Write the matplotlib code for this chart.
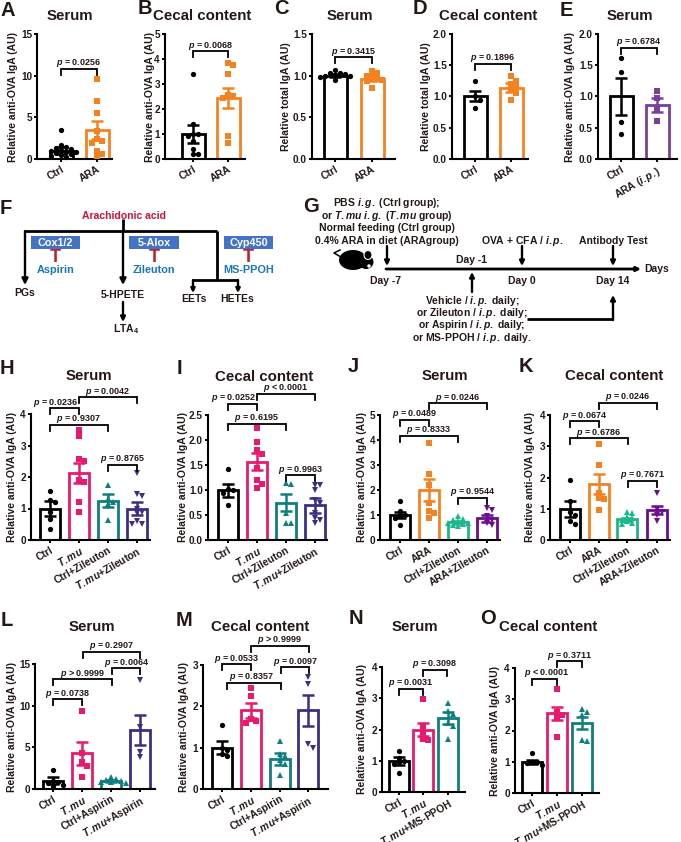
import matplotlib
matplotlib.use("Agg")
import matplotlib.pyplot as plt
from matplotlib.patches import Ellipse, Rectangle
from matplotlib.transforms import ScaledTranslation

plt.rcParams['font.family'] = ['Liberation Sans', 'DejaVu Sans']
plt.rcParams['font.weight'] = 'bold'
plt.rcParams['mathtext.fontset'] = 'custom'
plt.rcParams['mathtext.rm'] = 'Liberation Sans:bold'
plt.rcParams['mathtext.it'] = 'Liberation Sans:italic:bold'
plt.rcParams['mathtext.bf'] = 'Liberation Sans:bold'

W, H = 681, 842
INK = '#231815'
BLACK = '#000000'
ORANGE = '#f58220'
PINK = '#e8196e'
TEAL = '#0e7f7f'
NAVY = '#3b2f83'
VIOLET = '#7b3f98'
PURPLE = '#6a0d91'
GREEN = '#1cb88a'

TMU = r'$\mathit{T{.}mu}$'
IP = r'$\mathit{i{.}p{.}}$'
IG = r'$\mathit{i{.}g{.}}$'

# значения по панелям: средние, ошибки, точки
a_means = [1.0, 3.5]
a_errs = [0.45, 1.1]
a_pts = [[3.5, 1.7, 1.5, 1.3, 1.2, 1.1, 1.0, 0.9, 0.8, 0.7, 0.6, 0.5, 0.4, 0.3],
         [9.6, 6.9, 5.5, 3.4, 2.4, 2.2, 1.9, 1.0, 0.6, 0.4]]
b_means = [1.0, 2.45]
b_errs = [0.35, 0.4]
b_pts = [[3.4, 1.4, 1.0, 1.0, 0.9, 0.7, 0.4, 0.2, 0.2],
         [3.85, 3.75, 3.4, 2.55, 2.5, 2.45, 0.9, 0.65]]
c_means = [1.0, 0.96]
c_errs = [0.02, 0.03]
c_pts = [[1.07, 1.03, 1.03, 1.02, 1.01, 1.0, 1.0, 0.98, 0.95],
         [1.05, 1.03, 1.0, 0.98, 0.96, 0.95, 0.93, 0.85]]
d_means = [1.0, 1.14]
d_errs = [0.08, 0.07]
d_pts = [[1.24, 1.0, 0.95, 0.82],
         [1.32, 1.25, 1.2, 1.15, 1.12, 1.05, 0.95]]
e_means = [1.0, 0.86]
e_errs = [0.3, 0.11]
e_pts = [[1.62, 1.39, 0.59, 0.4],
         [1.08, 0.97, 0.8, 0.6]]

h_means = [1.0, 2.13, 1.25, 1.0]
h_errs = [0.23, 0.33, 0.2, 0.2]
h_pts = [[1.56, 1.28, 1.22, 0.88, 0.67, 0.34],
         [3.5, 3.3, 2.57, 2.5, 1.9, 1.85, 1.2, 0.9],
         [1.75, 1.3, 1.2, 1.15, 0.65],
         [2.13, 1.45, 1.4, 1.0, 0.9, 0.85, 0.6, 0.5, 0.5]]
i_means = [1.0, 1.57, 0.75, 0.7]
i_errs = [0.13, 0.17, 0.17, 0.15]
i_pts = [[1.42, 1.02, 1.0, 0.95, 0.7],
         [2.24, 1.97, 1.8, 1.72, 1.45, 1.2, 1.12, 1.05],
         [1.15, 1.12, 0.55, 0.35, 0.35],
         [1.1, 1.1, 1.0, 0.8, 0.75, 0.55, 0.45, 0.4, 0.35]]
j_means = [1.0, 2.0, 0.72, 0.87]
j_errs = [0.13, 0.45, 0.06, 0.13]
j_pts = [[1.57, 1.15, 1.0, 0.95, 0.9, 0.6],
         [3.9, 2.65, 2.2, 1.5, 1.15, 1.1, 0.9],
         [0.95, 0.85, 0.8, 0.75, 0.7, 0.7, 0.65, 0.6, 0.55],
         [1.3, 1.2, 0.95, 0.8, 0.7, 0.6]]
k_means = [1.0, 1.78, 0.67, 0.96]
k_errs = [0.25, 0.32, 0.05, 0.13]
k_pts = [[1.92, 1.25, 0.9, 0.8, 0.6, 0.5],
         [3.07, 2.4, 1.5, 1.35, 1.3, 0.95],
         [0.9, 0.85, 0.75, 0.7, 0.65, 0.6, 0.55, 0.5],
         [1.5, 1.0, 0.9, 0.8, 0.6]]
l_means = [1.0, 4.3, 1.0, 7.1]
l_errs = [0.45, 1.4, 0.1, 1.8]
l_pts = [[2.3, 1.0, 0.9, 0.7, 0.5, 0.4],
         [9.4, 4.3, 3.2, 2.8, 1.5],
         [1.4, 1.2, 1.1, 1.0, 0.9, 0.8, 0.7],
         [13.1, 7.5, 4.4, 3.8]]
m_means = [1.0, 1.9, 0.73, 1.9]
m_errs = [0.16, 0.18, 0.15, 0.37]
m_pts = [[1.56, 1.0, 0.95, 0.85, 0.8],
         [2.45, 2.25, 1.7, 1.65, 1.6],
         [1.15, 0.85, 0.8, 0.7, 0.6, 0.35],
         [2.7, 2.55, 1.1, 1.0]]
n_means = [1.0, 2.0, 2.37]
n_errs = [0.13, 0.22, 0.2]
n_pts = [[1.3, 1.1, 1.0, 0.95, 0.9, 0.6],
         [2.97, 2.1, 1.9, 1.7, 1.65],
         [2.85, 2.6, 2.5, 2.2, 2.1, 1.7]]
o_means = [1.0, 2.55, 2.24]
o_errs = [0.06, 0.2, 0.2]
o_pts = [[1.27, 1.0, 0.98, 0.95, 0.9],
         [3.33, 2.6, 2.5, 2.4, 1.8],
         [2.7, 2.6, 2.5, 1.7, 1.65]]

ara_labels = ['Ctrl', 'ARA']
ip_labels = ['Ctrl', 'ARA (' + IP + ')']
zil_labels = ['Ctrl', TMU, 'Ctrl+Zileuton', TMU + '+Zileuton']
ara_zil_labels = ['Ctrl', 'ARA', 'Ctrl+Zileuton', 'ARA+Zileuton']
asp_labels = ['Ctrl', TMU, 'Ctrl+Aspirin', TMU + '+Aspirin']
pp_labels = ['Ctrl', TMU, TMU + '+MS-PPOH']

IGA = 'Relative anti-OVA IgA (AU)'
TOTAL = 'Relative total IgA (AU)'
SERUM = 'Serum'
CECAL = 'Cecal content'

fig = plt.figure(figsize=(W / 100, H / 100), dpi=100)
ov = fig.add_axes([0, 0, 1, 1], zorder=10)
ov.set_xlim(0, W)
ov.set_ylim(H, 0)
ov.axis('off')
ov.patch.set_alpha(0)


def txt(x, y, s, size=7.5, color=INK, **kw):
    kw.setdefault('ha', 'center')
    ov.text(x, y, s, fontsize=size, color=color, va='center', **kw)


def swarm(vals, dx):
    # раздвигаем близкие точки в стороны, одиночные остаются по центру
    out = []
    placed = []
    for v in sorted(vals, reverse=True):
        off = 0.0
        step = 0
        while any(abs(v - pv) < dx[1] and abs(off - po) < dx[0] for pv, po in placed):
            step += 1
            off = (step + 1) // 2 * dx[0] * (1 if step % 2 else -1)
        placed.append((v, off))
        out.append((off, v))
    return out


def panel(left, right, top, bottom, centers, means, errs, pts, colors, markers,
          labels, shifts, yticks, yfmt, ylabel, ylab_x, brackets):
    ax = fig.add_axes([left / W, 1 - bottom / H, (right - left) / W, (bottom - top) / H])
    ymax = yticks[-1]
    step = centers[1] - centers[0]
    ax.set_xlim((left - centers[0]) / step, (right - centers[0]) / step)
    ax.set_ylim(0, ymax)
    px_y = ymax / (bottom - top)
    xs = [(c - centers[0]) / step for c in centers]
    width = 20.0 / step
    if len(centers) == 2:
        width = 23.0 / step
    for i, x in enumerate(xs):
        ax.bar(x, means[i], width=width, facecolor='white', edgecolor=colors[i], linewidth=2.0, zorder=2)
        ax.errorbar(x, means[i], yerr=errs[i], color=colors[i], elinewidth=1.8, capsize=4.2,
                    capthick=1.8, zorder=3, clip_on=False)
        for off, v in swarm(pts[i], (5.0 / step, 4.5 * px_y)):
            ax.plot(x + off, v, marker=markers[i], ms=3.8, color=colors[i], ls='none', zorder=4,
                    clip_on=False, mew=0)
    for sp in ['top', 'right']:
        ax.spines[sp].set_visible(False)
    for sp in ['left', 'bottom']:
        ax.spines[sp].set_linewidth(1.5)
        ax.spines[sp].set_color(BLACK)
    ax.set_xticks(xs)
    ax.set_xticklabels(labels, rotation=30, ha='right', rotation_mode='anchor', fontsize=7.4, color=INK)
    # подписи заходят правее своей засечки
    for lab, dx in zip(ax.get_xticklabels(), shifts):
        lab.set_transform(lab.get_transform() + ScaledTranslation(dx / 100, 0, fig.dpi_scale_trans))
    ax.set_yticks(yticks)
    ax.set_yticklabels([yfmt % t for t in yticks], fontsize=7.2, color=INK)
    ax.tick_params(axis='both', width=1.4, length=2.4, pad=1.2)
    txt(ylab_x, (top + bottom) / 2, ylabel, size=7.5, rotation=90)
    # скобки с p-значениями
    for b in brackets:
        i, j, y, s = b[:4]
        ldx = b[4] if len(b) > 4 else 0
        drop = 6 * px_y
        ax.plot([i, i, j, j], [y - drop, y, y, y - drop], color=BLACK, lw=1.3, clip_on=False,
                solid_joinstyle='miter', zorder=6)
        ax.annotate(s, (((i + j) / 2), y), xytext=(ldx * 0.72, 5.5 * 0.72), textcoords='offset points',
                    ha='center', va='center', fontsize=6.5, color=INK, annotation_clip=False)
    return ax


P = r'$\mathit{p}$'
two_col = [BLACK, ORANGE]
two_mark = ['o', 's']
s2 = [7, 12]
s4 = [7, 7, 15, 23]
s3 = [8, 10, 17]

panel(37, 112, 34, 159, [61, 97], a_means, a_errs, a_pts, two_col, two_mark, ara_labels, s2,
      [0, 5, 10, 15], '%g', IGA, 13, [(0, 1, 10.8, P + ' = 0.0256')])
panel(165, 245, 34, 159, [193, 228], b_means, b_errs, b_pts, two_col, two_mark, ara_labels, s2,
      [0, 1, 2, 3, 4, 5], '%g', IGA, 150, [(0, 1, 4.3, P + ' = 0.0068')])
panel(312, 395, 34, 159, [335, 372], c_means, c_errs, c_pts, two_col, two_mark, ara_labels, s2,
      [0, 0.5, 1.0, 1.5], '%.1f', TOTAL, 286, [(0, 1, 1.22, P + ' = 0.3415')])
panel(452, 528, 34, 159, [475, 511], d_means, d_errs, d_pts, two_col, two_mark, ara_labels, s2,
      [0, 0.5, 1.0, 1.5, 2.0], '%.1f', TOTAL, 426, [(0, 1, 1.52, P + ' = 0.1896')])
panel(598, 677, 34, 159, [621, 657], e_means, e_errs, e_pts, [BLACK, VIOLET], two_mark, ip_labels, [7, 21],
      [0, 0.5, 1.0, 1.5, 2.0], '%.1f', IGA, 570, [(0, 1, 1.78, P + ' = 0.6784')])

tmu_col = [BLACK, PINK, TEAL, NAVY]
four_mark = ['o', 's', '^', 'v']
ara_col = [BLACK, ORANGE, GREEN, PURPLE]

panel(31, 150, 414, 540, [50, 79, 108, 137], h_means, h_errs, h_pts, tmu_col, four_mark, zil_labels, s4,
      [0, 1, 2, 3, 4], '%g', IGA, 12,
      [(0, 1, 4.19, P + ' = 0.0236', -9), (0, 2, 3.66, P + ' = 0.9307'),
       (1, 3, 4.53, P + ' = 0.0042'), (2, 3, 2.39, P + ' = 0.8765')])
panel(208, 327, 415, 540, [228, 257, 286, 315], i_means, i_errs, i_pts, tmu_col, four_mark, zil_labels, s4,
      [0, 0.5, 1.0, 1.5, 2.0, 2.5], '%.1f', IGA, 183,
      [(0, 1, 2.72, P + ' = 0.0252', -9), (0, 2, 2.33, P + ' = 0.6195'),
       (1, 3, 2.92, P + ' < 0.0001'), (2, 3, 1.3, P + ' = 0.9963')])
panel(380, 500, 415, 540, [400, 429, 458, 487], j_means, j_errs, j_pts, ara_col, four_mark, ara_zil_labels, s4,
      [0, 1, 2, 3, 4, 5], '%g', IGA, 362,
      [(0, 1, 4.8, P + ' = 0.0489'), (0, 2, 4.16, P + ' = 0.8333'),
       (1, 3, 5.47, P + ' = 0.0246'), (2, 3, 1.7, P + ' = 0.9544')])
panel(550, 670, 415, 540, [570, 599, 627, 657], k_means, k_errs, k_pts, ara_col, four_mark, ara_zil_labels, s4,
      [0, 1, 2, 3, 4], '%g', IGA, 530,
      [(0, 1, 3.8, P + ' = 0.0674'), (0, 2, 3.25, P + ' = 0.6786'),
       (1, 3, 4.4, P + ' = 0.0246'), (2, 3, 1.89, P + ' = 0.7671')])
panel(35, 155, 664, 789, [53, 82, 111, 140], l_means, l_errs, l_pts, tmu_col, four_mark, asp_labels, s4,
      [0, 5, 10, 15], '%g', IGA, 12,
      [(0, 1, 10.77, P + ' = 0.0738'), (0, 2.05, 13.16, P + ' > 0.9999'),
       (2.05, 3, 14.48, P + ' = 0.0064'), (1.05, 3, 16.47, P + ' = 0.2907')])
panel(203, 328, 665, 789, [222, 251, 280, 308], m_means, m_errs, m_pts, tmu_col, four_mark, asp_labels, s4,
      [0, 1, 2, 3], '%g', IGA, 184,
      [(0, 1, 3.02, P + ' = 0.0533'), (0.17, 2.05, 2.57, P + ' = 0.8357', -3),
       (1, 3, 3.46, P + ' > 0.9999'), (2.05, 3, 2.94, P + ' = 0.0097')])
panel(382, 465, 667, 792, [399, 423, 448], n_means, n_errs, n_pts, [BLACK, PINK, TEAL], four_mark, pp_labels, s3,
      [0, 1, 2, 3, 4], '%g', IGA, 362,
      [(0, 1, 3.31, P + ' = 0.0031'), (1, 2, 3.91, P + ' = 0.3098')])
panel(515, 599, 668, 793, [532, 557, 582], o_means, o_errs, o_pts, [BLACK, PINK, TEAL], four_mark, pp_labels, s3,
      [0, 1, 2, 3, 4], '%g', IGA, 495,
      [(0, 1, 3.65, P + ' < 0.0001', 2), (1, 2, 4.21, P + ' = 0.3711')])

# заголовки
titles = [(70, 16, SERUM), (202, 16, CECAL), (350, 16, SERUM), (488, 16, CECAL), (630, 16, SERUM),
          (89, 376, SERUM), (264, 377, CECAL), (445, 376, SERUM), (614, 376, CECAL),
          (92, 627, SERUM), (260, 627, CECAL), (415, 627, SERUM), (548, 627, CECAL)]
for x, y, s in titles:
    txt(x, y, s, size=10.8)

# буквы панелей
letters = [(8, 10, 'A'), (145, 9, 'B'), (281, 9, 'C'), (420, 9, 'D'), (566, 10, 'E'),
           (6, 208, 'F'), (311, 207, 'G'), (7, 368, 'H'), (179, 369, 'I'), (353, 366, 'J'),
           (526, 366, 'K'), (7, 620, 'L'), (184, 620, 'M'), (356, 619, 'N'), (488, 619, 'O')]
for x, y, s in letters:
    txt(x, y, s, size=14.5)


def arrow(x0, y0, x1, y1, scale=7, lw=1.7):
    ov.annotate('', xy=(x1, y1), xytext=(x0, y0),
                arrowprops=dict(arrowstyle='-|>', color=BLACK, lw=lw, shrinkA=0, shrinkB=0,
                                mutation_scale=scale))


def seg(xs, ys, lw=2.0):
    ov.plot(xs, ys, color=BLACK, lw=lw, solid_capstyle='butt', solid_joinstyle='miter')


# схема F
txt(124, 216, 'Arachidonic acid', color='#d0103a')
seg([25, 217], [231, 231])
seg([123, 123], [219, 231])
arrow(123, 231, 123, 285, scale=9)
arrow(25, 231, 25, 285, scale=9)
seg([217, 217], [231, 280])
seg([193, 238], [280, 280])
arrow(193, 280, 193, 293, scale=6)
arrow(238, 280, 238, 293, scale=6)
arrow(123, 302, 123, 322, scale=7)
for x, y, s in [(25, 293, 'PGs'), (123, 295, '5-HPETE'), (126, 329, 'LTA$_{4}$'),
                (194, 299, 'EETs'), (237, 299, 'HETEs')]:
    txt(x, y, s)
for x0, x1, enz, drug in [(31, 80, 'Cox1/2', 'Aspirin'), (129, 179, '5-Alox', 'Zileuton'),
                          (224, 273, 'Cyp450', 'MS-PPOH')]:
    ov.add_patch(Rectangle((x0, 236), x1 - x0, 13, facecolor='#4472c4', edgecolor='none'))
    xc = (x0 + x1) / 2
    txt(xc, 242.5, enz, color='white', size=7.8)
    txt(xc, 257, 'T', color='#c0202a', size=13)
    txt(xc, 270, drug, color='#1a75bc', size=7.8)

# схема G
for y, s in [(203, 'PBS ' + IG + ' (Ctrl group);'),
             (216, 'or ' + TMU + ' ' + IG + ' (' + TMU + ' group)'),
             (228, 'Normal feeding (Ctrl group)'),
             (241, '0.4% ARA in diet (ARAgroup)')]:
    txt(387, y, s)
arrow(387, 246, 387, 266)
arrow(386, 269, 641, 269, scale=6, lw=2.0)
txt(657, 269, 'Days')
txt(386, 281, 'Day -7')
txt(471, 260, 'Day -1')
arrow(472, 292, 472, 272)
txt(522, 241, 'OVA + CFA / ' + IP)
arrow(522, 246, 522, 266)
txt(522, 281, 'Day 0')
txt(613, 241, 'Antibody Test')
arrow(613, 246, 613, 266)
txt(613, 281, 'Day 14')
for y, s in [(301, 'Vehicle / ' + IP + ' daily;'), (313, 'or Zileuton / ' + IP + ' daily;'),
             (325, 'or Aspirin / ' + IP + ' daily;'), (338, 'or MS-PPOH / ' + IP + ' daily.')]:
    txt(472, y, s)
seg([527, 613], [319, 319])
arrow(613, 320, 613, 295)

# мышь
ov.add_patch(Ellipse((353, 260), 28, 20, facecolor=BLACK, edgecolor='none'))
ov.add_patch(Ellipse((366, 262), 15, 14, facecolor=BLACK, edgecolor='none'))
ov.add_patch(Ellipse((368, 255), 8, 9, facecolor=BLACK, edgecolor='white', lw=0.8))
ov.add_patch(Ellipse((369, 266), 3.5, 3.5, facecolor='white', edgecolor='none'))
ov.plot([341, 334, 340], [257, 253, 250], color=BLACK, lw=1.1)

fig.savefig('out.png', dpi=100)
